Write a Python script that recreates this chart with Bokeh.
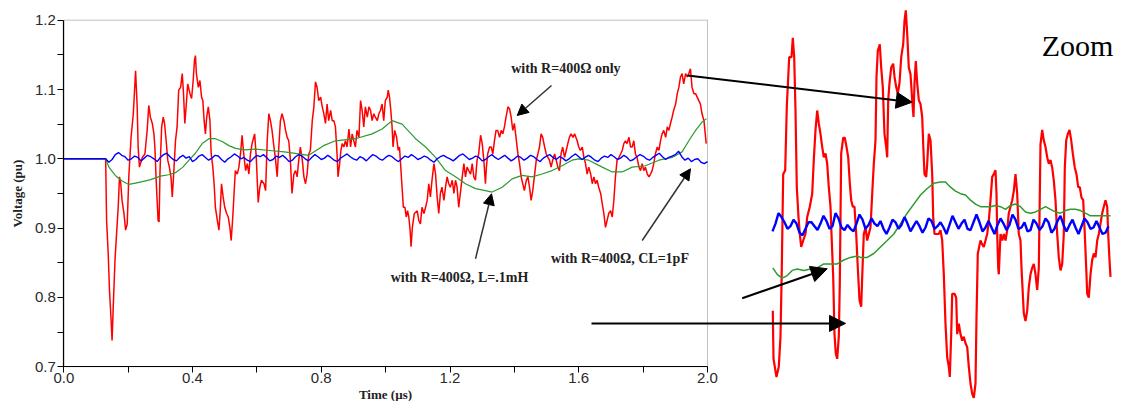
from bokeh.plotting import figure
from bokeh.models import (Range1d, LinearAxis, FixedTicker, PrintfTickFormatter,
                          Arrow, NormalHead, Label, BoxAnnotation)
from bokeh.embed import file_html
from bokeh.resources import INLINE

# ---------------- main chart data (time in us, voltage in pu) ----------------
x_ticks = [0.0, 0.4, 0.8, 1.2, 1.6, 2.0]
x_minor = [0.2, 0.6, 1.0, 1.4, 1.8]
y_ticks = [0.7, 0.8, 0.9, 1.0, 1.1, 1.2]
y_minor = [0.75, 0.85, 0.95, 1.05, 1.15]

# "with R=400 ohm only" (red)
red_t = [0.000, 0.130, 0.133, 0.138, 0.142, 0.147, 0.150, 0.154, 0.159, 0.164, 0.169, 0.173, 0.177, 0.181,
         0.187, 0.192, 0.197, 0.202, 0.209, 0.216, 0.223, 0.228, 0.231, 0.235, 0.244, 0.252, 0.259, 0.264,
         0.269, 0.275, 0.280, 0.283, 0.287, 0.290, 0.293, 0.296, 0.299, 0.304, 0.309, 0.313, 0.318, 0.323,
         0.328, 0.333, 0.337, 0.342, 0.347, 0.352, 0.357, 0.363, 0.368, 0.372, 0.376, 0.380, 0.385, 0.392,
         0.397, 0.402, 0.406, 0.409, 0.412, 0.418, 0.423, 0.428, 0.432, 0.436, 0.440, 0.444, 0.449, 0.454,
         0.458, 0.463, 0.467, 0.471, 0.477, 0.482, 0.486, 0.490, 0.495, 0.500, 0.506, 0.511, 0.516, 0.520,
         0.525, 0.529, 0.533, 0.539, 0.544, 0.549, 0.554, 0.559, 0.565, 0.570, 0.575, 0.580, 0.585, 0.593,
         0.598, 0.604, 0.609, 0.614, 0.622, 0.627, 0.632, 0.637, 0.642, 0.647, 0.653, 0.658, 0.663, 0.668,
         0.673, 0.678, 0.684, 0.689, 0.694, 0.699, 0.704, 0.709, 0.715, 0.720, 0.725, 0.730, 0.735, 0.741,
         0.746, 0.751, 0.756, 0.761, 0.766, 0.772, 0.777, 0.782, 0.787, 0.792, 0.798, 0.803, 0.808, 0.813,
         0.818, 0.823, 0.829, 0.834, 0.839, 0.844, 0.849, 0.852, 0.857, 0.861, 0.865, 0.870, 0.875, 0.880,
         0.886, 0.891, 0.896, 0.901, 0.906, 0.911, 0.917, 0.922, 0.927, 0.932, 0.937, 0.943, 0.948, 0.953,
         0.958, 0.963, 0.968, 0.974, 0.979, 0.984, 0.989, 0.994, 0.999, 1.005, 1.008, 1.012, 1.016, 1.020,
         1.023, 1.028, 1.034, 1.039, 1.043, 1.047, 1.051, 1.055, 1.060, 1.064, 1.068, 1.072, 1.076, 1.079,
         1.083, 1.089, 1.098, 1.103, 1.108, 1.113, 1.119, 1.124, 1.129, 1.134, 1.139, 1.144, 1.150, 1.155,
         1.160, 1.165, 1.170, 1.175, 1.181, 1.186, 1.191, 1.196, 1.201, 1.207, 1.212, 1.217, 1.222, 1.227,
         1.233, 1.238, 1.243, 1.248, 1.253, 1.258, 1.264, 1.269, 1.274, 1.279, 1.284, 1.289, 1.295, 1.300,
         1.305, 1.310, 1.313, 1.317, 1.323, 1.328, 1.333, 1.338, 1.343, 1.348, 1.354, 1.359, 1.364, 1.369,
         1.374, 1.380, 1.385, 1.390, 1.395, 1.400, 1.405, 1.411, 1.416, 1.421, 1.426, 1.431, 1.437, 1.442,
         1.447, 1.452, 1.457, 1.462, 1.468, 1.473, 1.478, 1.483, 1.488, 1.494, 1.499, 1.504, 1.509, 1.514,
         1.519, 1.525, 1.530, 1.535, 1.540, 1.545, 1.550, 1.556, 1.561, 1.566, 1.571, 1.576, 1.582, 1.587,
         1.595, 1.600, 1.605, 1.611, 1.616, 1.621, 1.626, 1.631, 1.637, 1.642, 1.647, 1.652, 1.657, 1.662,
         1.668, 1.673, 1.678, 1.683, 1.688, 1.693, 1.699, 1.704, 1.709, 1.714, 1.719, 1.725, 1.730, 1.735,
         1.740, 1.745, 1.750, 1.756, 1.761, 1.766, 1.771, 1.776, 1.781, 1.787, 1.792, 1.797, 1.802, 1.807,
         1.813, 1.818, 1.823, 1.828, 1.833, 1.838, 1.844, 1.849, 1.854, 1.859, 1.864, 1.870, 1.875, 1.880,
         1.885, 1.890, 1.895, 1.901, 1.906, 1.911, 1.916, 1.921, 1.926, 1.932, 1.937, 1.942, 1.947, 1.952,
         1.958, 1.963, 1.968, 1.973, 1.978, 1.983, 1.989, 1.992, 1.996]
red_v = [1.000, 1.000, 0.911, 0.863, 0.810, 0.767, 0.738, 0.791, 0.853, 0.892, 0.930, 0.974, 0.964, 0.940,
         0.921, 0.897, 0.906, 0.974, 1.031, 1.065, 1.127, 1.075, 1.017, 0.988, 1.002, 1.007, 1.041, 1.077,
         1.060, 1.051, 1.036, 1.017, 0.969, 0.940, 0.911, 0.909, 0.983, 1.046, 1.060, 1.051, 1.026, 0.998,
         0.988, 0.974, 0.945, 0.983, 1.026, 1.046, 1.099, 1.103, 1.123, 1.094, 1.051, 1.075, 1.108, 1.094,
         1.087, 1.113, 1.142, 1.149, 1.123, 1.103, 1.113, 1.089, 1.084, 1.055, 1.036, 1.060, 1.075, 1.055,
         1.007, 0.988, 0.964, 0.930, 0.911, 0.897, 0.925, 0.964, 0.945, 0.930, 0.921, 0.916, 0.901, 0.882,
         0.916, 0.950, 0.983, 0.978, 0.988, 1.007, 1.034, 1.007, 0.983, 0.993, 0.978, 1.007, 1.022, 1.036,
         1.002, 0.937, 0.959, 0.969, 0.964, 0.954, 1.026, 1.065, 1.055, 1.041, 1.017, 0.998, 0.974, 1.017,
         1.055, 1.065, 1.055, 1.041, 1.031, 1.026, 0.998, 0.950, 0.978, 0.983, 0.974, 0.998, 1.017, 0.998,
         0.974, 0.964, 0.978, 1.007, 1.012, 1.055, 1.075, 1.111, 1.103, 1.084, 1.089, 1.075, 1.065, 1.051,
         1.079, 1.055, 1.070, 1.055, 1.055, 1.046, 1.007, 0.974, 0.993, 1.012, 1.022, 1.017, 1.026, 1.017,
         1.043, 1.017, 1.036, 1.026, 1.017, 1.041, 1.031, 1.084, 1.070, 1.046, 1.075, 1.060, 1.075, 1.070,
         1.055, 1.065, 1.060, 1.055, 1.065, 1.070, 1.079, 1.055, 1.084, 1.089, 1.099, 1.089, 1.070, 1.046,
         1.017, 1.041, 1.031, 1.012, 1.017, 0.988, 0.959, 0.930, 0.930, 0.916, 0.925, 0.916, 0.897, 0.873,
         0.901, 0.921, 0.925, 0.911, 0.906, 0.930, 0.921, 0.930, 0.940, 0.964, 0.945, 0.969, 0.993, 0.978,
         0.945, 0.921, 0.950, 0.959, 0.940, 0.959, 0.974, 0.964, 0.959, 0.969, 0.950, 0.969, 0.959, 0.930,
         0.954, 0.974, 0.993, 0.974, 0.988, 0.983, 0.978, 0.993, 0.974, 0.969, 0.998, 1.007, 1.034, 1.022,
         0.998, 0.964, 0.988, 1.007, 1.017, 1.017, 1.007, 1.026, 1.041, 1.041, 1.031, 1.041, 1.036, 1.046,
         1.060, 1.075, 1.072, 1.060, 1.041, 1.051, 1.031, 1.007, 0.993, 0.974, 0.964, 0.954, 0.969, 0.974,
         0.959, 0.940, 0.954, 0.974, 0.998, 1.007, 1.017, 1.036, 1.031, 1.017, 1.007, 1.002, 0.998, 0.988,
         0.998, 1.007, 0.998, 0.988, 0.983, 1.007, 1.017, 1.002, 1.012, 1.022, 1.031, 1.036, 1.031, 1.036,
         1.026, 1.017, 1.012, 1.017, 1.002, 0.993, 0.978, 0.988, 0.978, 0.964, 0.974, 0.964, 0.969, 0.959,
         0.950, 0.935, 0.921, 0.901, 0.911, 0.921, 0.925, 0.916, 0.940, 0.974, 0.998, 1.002, 1.007, 1.012,
         1.022, 1.026, 1.022, 1.031, 1.017, 1.017, 1.026, 1.007, 1.002, 0.988, 0.983, 0.993, 0.983, 0.988,
         0.978, 0.974, 0.978, 0.983, 0.993, 1.007, 1.017, 1.012, 1.026, 1.036, 1.041, 1.031, 1.046, 1.041,
         1.051, 1.060, 1.070, 1.079, 1.094, 1.103, 1.118, 1.123, 1.108, 1.123, 1.118, 1.123, 1.130, 1.103,
         1.094, 1.094, 1.089, 1.084, 1.079, 1.065, 1.055, 1.041, 1.022]

# "with R=400 ohm, L=.1mH" (green)
green_t = [0.000, 0.130, 0.140, 0.160, 0.181, 0.202, 0.223, 0.244, 0.270, 0.300, 0.326, 0.347, 0.370,
           0.389, 0.409, 0.430, 0.451, 0.471, 0.492, 0.513, 0.534, 0.560, 0.596, 0.640, 0.685, 0.730,
           0.761, 0.807, 0.844, 0.906, 0.958, 0.989, 1.020, 1.051, 1.093, 1.124, 1.155, 1.186, 1.217,
           1.248, 1.279, 1.310, 1.331, 1.362, 1.393, 1.424, 1.455, 1.486, 1.517, 1.548, 1.579, 1.600,
           1.631, 1.673, 1.704, 1.735, 1.766, 1.807, 1.849, 1.890, 1.921, 1.942, 1.963, 1.983, 1.997]
green_v = [1.000, 1.000, 0.988, 0.976, 0.968, 0.963, 0.965, 0.967, 0.970, 0.975, 0.977, 0.980, 0.988,
           0.998, 1.008, 1.022, 1.029, 1.029, 1.025, 1.019, 1.015, 1.013, 1.014, 1.012, 1.010, 1.007,
           1.005, 1.019, 1.026, 1.029, 1.036, 1.043, 1.055, 1.050, 1.029, 1.017, 1.002, 0.983, 0.974,
           0.964, 0.957, 0.954, 0.952, 0.959, 0.971, 0.976, 0.974, 0.978, 0.983, 0.990, 0.998, 1.000,
           0.998, 0.988, 0.981, 0.981, 0.988, 0.990, 0.998, 1.002, 1.010, 1.026, 1.041, 1.053, 1.058]

# "with R=400 ohm, CL=1pF" (blue): flat, then sampled every 0.01 us from 0.13 us
blue_start, blue_step = 0.13, 0.01
blue_samples = [1.000, 0.995, 0.999, 1.006, 1.009, 1.005, 1.003, 0.998, 1.000, 1.004,
                1.002, 0.997, 1.001, 1.005, 1.003, 1.000, 0.996, 1.002, 1.006, 1.008,
                1.003, 0.999, 0.997, 1.002, 1.005, 1.001, 1.003, 0.996, 0.999, 1.004,
                1.006, 1.002, 0.998, 1.001, 1.005, 1.004, 0.999, 0.995, 1.000, 1.003,
                1.007, 1.004, 1.000, 1.002, 0.998, 0.996, 1.001, 1.005, 1.003, 1.006,
                1.002, 0.997, 0.999, 1.004, 1.002, 1.005, 1.001, 0.996, 0.998, 1.003,
                1.006, 1.004, 1.000, 0.997, 1.002, 1.006, 1.003, 0.999, 1.001, 1.005,
                1.002, 0.998, 0.996, 1.001, 1.004, 1.007, 1.003, 1.000, 0.998, 1.003,
                1.001, 0.997, 1.002, 1.006, 1.004, 1.000, 0.998, 1.002, 1.005, 1.003,
                0.999, 0.996, 1.000, 1.004, 1.002, 1.006, 1.003, 0.999, 1.001, 1.004,
                1.002, 0.998, 0.995, 1.000, 1.003, 1.005, 1.002, 1.000, 0.997, 1.001,
                1.005, 1.007, 1.003, 0.999, 1.001, 1.004, 1.002, 0.997, 0.999, 1.003,
                1.006, 1.002, 0.999, 1.002, 1.005, 1.001, 0.997, 1.000, 1.004, 1.002,
                0.998, 1.001, 1.005, 1.003, 0.999, 0.996, 1.001, 1.004, 1.006, 1.002,
                0.999, 1.003, 1.001, 0.997, 1.000, 1.004, 1.007, 1.003, 0.999, 1.002,
                1.005, 1.002, 0.998, 0.996, 1.001, 1.004, 1.002, 1.006, 1.003, 0.999,
                1.001, 1.005, 1.002, 0.997, 0.999, 1.003, 1.006, 1.004, 1.000, 0.998,
                1.002, 1.005, 1.008, 1.003, 0.999, 1.002, 1.004, 1.006, 1.011, 1.003,
                0.998, 1.001, 0.996, 0.999, 1.000, 0.995, 0.993, 0.996]
blue_t = [0.0] + [blue_start + blue_step * i for i in range(len(blue_samples))]
blue_v = [1.000] + blue_samples

# ---------------- zoom panel data (sample index, voltage in pu) ----------------
zoom_red_x = [2.3, 3.0, 4.7, 6.0, 8.3, 10.0, 11.3, 12.7, 14.7, 16.3, 18.7, 21.0, 22.3, 23.7, 25.0, 26.3,
              28.0, 29.3, 30.7, 32.7, 35.0, 36.7, 39.3, 41.7, 43.3, 45.0, 46.7, 48.3, 50.0, 51.7, 53.3,
              55.0, 56.7, 58.3, 60.0, 61.0, 62.7, 64.0, 65.3, 66.7, 68.3, 69.3, 70.7, 72.7, 74.3, 76.0,
              77.7, 79.3, 80.7, 82.3, 84.0, 85.7, 87.3, 89.0, 90.7, 91.7, 93.3, 95.0, 96.7, 98.3, 100.0,
              101.7, 103.3, 105.0, 106.0, 107.3, 109.3, 110.7, 112.3, 114.0, 115.7, 116.7, 117.7, 119.0,
              120.7, 122.7, 124.0, 125.7, 127.3, 129.0, 130.7, 132.7, 134.0, 135.3, 136.7, 138.3, 140.0,
              141.7, 143.0, 144.0, 145.3, 146.7, 148.3, 150.0, 151.7, 152.7, 154.0, 155.7, 156.7, 158.3,
              160.0, 161.7, 162.7, 164.0, 168.3, 170.0, 171.7, 173.3, 175.0, 176.7, 178.3, 179.3, 180.7,
              181.7, 184.0, 185.7, 186.7, 188.3, 190.0, 191.7, 193.3, 195.0, 196.7, 198.3, 200.0, 201.7,
              203.3, 205.0, 206.0, 207.3, 210.0, 211.7, 213.3, 215.0, 216.7, 218.3, 220.0, 221.7, 223.3,
              225.0, 226.0, 226.7, 227.7, 228.3, 230.0, 231.7, 233.3, 235.0, 236.7, 238.3, 240.0, 241.7,
              243.3, 245.0, 246.7, 248.3, 250.0, 251.0, 252.3, 253.3, 255.0, 256.7, 258.3, 260.0, 261.7,
              263.3, 265.0, 266.7, 268.3, 270.0, 271.7, 273.3, 275.0, 276.7, 278.3, 280.0, 281.7, 283.3,
              285.0, 286.7, 288.3, 290.0, 291.7, 293.3, 294.3, 295.7, 297.3, 299.0, 300.7, 302.3, 304.3,
              306.0, 307.7, 309.3, 311.0, 312.7, 314.3, 315.7, 316.7, 318.3, 320.0, 321.7, 323.3, 325.0,
              326.7, 328.3, 330.0, 331.7, 333.3, 335.0, 336.7, 337.7, 339.0, 340.0]
zoom_red_v = [0.936, 0.899, 0.891, 0.885, 0.893, 0.916, 0.969, 1.041, 1.044, 1.093, 1.131, 1.131, 1.146,
              1.131, 1.090, 1.031, 1.008, 0.995, 0.985, 0.990, 0.995, 1.008, 1.016, 1.026, 1.052, 1.075,
              1.090, 1.080, 1.072, 1.062, 1.054, 1.057, 1.049, 1.031, 1.016, 0.995, 0.962, 0.918, 0.903,
              0.899, 0.916, 0.957, 1.057, 1.069, 1.069, 1.062, 1.054, 1.034, 1.021, 1.016, 1.016, 0.995,
              0.969, 0.944, 0.939, 0.962, 0.995, 1.000, 0.990, 0.995, 1.000, 1.026, 1.049, 1.067, 1.116,
              1.136, 1.141, 1.123, 1.108, 1.072, 1.062, 1.054, 1.098, 1.111, 1.123, 1.126, 1.116, 1.108,
              1.103, 1.111, 1.131, 1.141, 1.159, 1.167, 1.149, 1.123, 1.118, 1.098, 1.085, 1.111, 1.128,
              1.111, 1.098, 1.095, 1.085, 1.064, 1.041, 1.039, 1.049, 1.072, 1.067, 1.041, 1.008, 0.995,
              0.995, 0.998, 0.990, 0.964, 0.926, 0.900, 0.893, 0.885, 0.918, 0.949, 0.949, 0.946, 0.918,
              0.926, 0.918, 0.913, 0.916, 0.911, 0.908, 0.893, 0.880, 0.872, 0.869, 0.880, 0.931, 0.980,
              0.990, 0.987, 0.985, 0.990, 0.995, 1.005, 1.021, 1.039, 1.041, 1.044, 1.026, 0.995, 0.969,
              0.964, 0.995, 0.990, 0.995, 0.990, 0.998, 1.011, 1.016, 1.021, 1.028, 1.041, 1.026, 0.995,
              0.990, 0.969, 0.949, 0.934, 0.928, 0.936, 0.954, 0.964, 0.969, 0.972, 0.964, 0.952, 0.969,
              1.064, 1.075, 1.067, 1.062, 1.054, 1.049, 1.052, 1.046, 1.036, 1.021, 0.995, 0.977, 0.967,
              0.972, 0.995, 1.046, 1.067, 1.072, 1.075, 1.067, 1.057, 1.046, 1.041, 1.031, 1.031, 1.023,
              1.021, 0.995, 0.969, 0.949, 0.946, 0.964, 0.975, 0.980, 0.977, 0.990, 0.995, 1.003, 1.011,
              1.016, 1.021, 1.016, 0.995, 0.975, 0.962]

zoom_green_x = [2.3, 6.7, 11.7, 16.7, 21.7, 26.7, 33.3, 40.0, 46.7, 53.3, 60.0, 66.7, 73.3, 80.0, 86.7,
                90.0, 96.7, 103.3, 110.0, 116.7, 123.3, 130.0, 136.7, 143.3, 150.0, 156.7, 163.3, 170.0,
                175.0, 180.0, 185.0, 190.0, 195.0, 200.0, 205.0, 210.0, 215.0, 220.0, 225.0, 230.0, 235.0,
                240.0, 245.0, 250.0, 255.0, 260.0, 265.0, 270.0, 275.0, 280.0, 285.0, 290.0, 295.0, 300.0,
                305.0, 310.0, 315.0, 320.0, 325.0, 330.0, 335.0, 340.0]
zoom_green_v = [0.969, 0.964, 0.961, 0.963, 0.967, 0.968, 0.967, 0.968, 0.969, 0.972, 0.972, 0.972, 0.975,
                0.977, 0.978, 0.977, 0.977, 0.980, 0.985, 0.990, 0.995, 1.003, 1.011, 1.018, 1.025, 1.030,
                1.034, 1.035, 1.035, 1.031, 1.028, 1.026, 1.025, 1.021, 1.018, 1.016, 1.016, 1.016, 1.017,
                1.016, 1.014, 1.017, 1.018, 1.016, 1.012, 1.011, 1.012, 1.014, 1.016, 1.014, 1.012, 1.011,
                1.013, 1.014, 1.014, 1.013, 1.011, 1.009, 1.009, 1.009, 1.009, 1.009]

zoom_blue_start, zoom_blue_step = 2.0, 3.0
zoom_blue_v = [0.997, 1.003, 1.011, 1.008, 1.004, 0.999, 1.001, 1.006, 1.003, 0.996,
               0.994, 0.999, 1.004, 1.004, 1.001, 0.998, 1.003, 1.009, 1.005, 0.999,
               1.001, 1.011, 1.007, 1.000, 0.998, 1.002, 0.999, 0.997, 1.003, 1.010,
               1.006, 0.999, 1.002, 1.007, 1.003, 1.001, 1.005, 0.999, 0.995, 1.000,
               1.006, 1.004, 0.999, 1.002, 1.008, 1.003, 0.997, 1.001, 1.005, 1.001,
               0.996, 1.000, 1.007, 1.005, 0.999, 1.001, 1.004, 1.000, 0.995, 1.002,
               1.009, 1.004, 0.999, 1.003, 1.006, 0.999, 0.998, 1.004, 1.010, 1.004,
               0.997, 1.000, 1.005, 1.000, 0.995, 1.002, 1.007, 1.003, 0.998, 1.002,
               1.010, 1.006, 0.999, 1.000, 1.004, 0.997, 0.998, 1.006, 1.003, 0.998,
               1.001, 1.007, 1.004, 0.996, 0.999, 1.005, 1.009, 1.002, 0.997, 1.002,
               1.006, 1.000, 0.995, 1.001, 1.007, 1.004, 0.999, 1.000, 1.005, 1.000,
               0.995, 0.996, 1.001]
zoom_blue_x = [zoom_blue_start + zoom_blue_step * i for i in range(len(zoom_blue_v))]

RED, GREEN, BLUE = "#ff0000", "#2e9a2e", "#0000ff"

# ---------------- figure ----------------
p = figure(width=1124, height=401, output_backend="svg", toolbar_location=None,
           x_axis_type=None, y_axis_type=None,
           x_range=Range1d(-0.19668, 3.29564), y_range=Range1d(0.64978, 1.22843),
           min_border=0, outline_line_color=None,
           background_fill_color="white", border_fill_color="white")
p.extra_x_ranges = {"zx": Range1d(-770, 354)}
p.extra_y_ranges = {"zy": Range1d(0.86615, 1.17462)}

# main plot box
p.add_layout(BoxAnnotation(left=0, right=2.0, bottom=0.7, top=1.2, fill_alpha=0,
                           line_color="#333333", line_width=1, level="underlay"))

p.line(red_t, red_v, line_color=RED, line_width=1.5)
p.line(green_t, green_v, line_color=GREEN, line_width=1.2)
p.line(blue_t, blue_v, line_color=BLUE, line_width=1.4)

# zoom panel
p.line(zoom_red_x, zoom_red_v, x_range_name="zx", y_range_name="zy", line_color=RED, line_width=2.2)
p.line(zoom_green_x, zoom_green_v, x_range_name="zx", y_range_name="zy", line_color=GREEN, line_width=1.5)
p.line(zoom_blue_x, zoom_blue_v, x_range_name="zx", y_range_name="zy", line_color=BLUE, line_width=2.4)

def style_axis(ax):
    ax.axis_line_color = "black"
    ax.axis_line_width = 1.2
    ax.major_tick_line_color = "black"
    ax.minor_tick_line_color = "black"
    ax.major_tick_in = 0
    ax.major_tick_out = 6
    ax.minor_tick_in = 0
    ax.minor_tick_out = 6
    ax.major_label_text_font = "Liberation Sans"
    ax.major_label_text_font_size = "15px"
    ax.major_label_text_color = "#2a2a2a"
    ax.axis_label_text_font = "Liberation Serif"
    ax.axis_label_text_font_style = "bold"
    ax.axis_label_text_font_size = "13px"
    ax.axis_label_text_color = "#222222"
    ax.formatter = PrintfTickFormatter(format="%.1f")

xaxis = LinearAxis(fixed_location=0.7, bounds=(0, 2.0),
                   ticker=FixedTicker(ticks=x_ticks, minor_ticks=x_minor),
                   axis_label="Time (µs)")
style_axis(xaxis)
xaxis.major_label_standoff = 0
xaxis.axis_label_standoff = 1
p.add_layout(xaxis, "below")

yaxis = LinearAxis(fixed_location=0.0, bounds=(0.7, 1.2),
                   ticker=FixedTicker(ticks=y_ticks, minor_ticks=y_minor),
                   axis_label="Voltage (pu)")
style_axis(yaxis)
yaxis.major_label_standoff = 2
yaxis.axis_label_standoff = 7
p.add_layout(yaxis, "left")

# annotation texts
lab_kw = dict(text_font="Liberation Serif", text_font_style="bold", text_font_size="14px",
              text_color="#222222", text_align="center", text_baseline="middle")
p.add_layout(Label(x=1.560, y=1.130, text="with R=400Ω only", **lab_kw))
p.add_layout(Label(x=1.2295, y=0.829, text="with R=400Ω, L=.1mH", **lab_kw))
p.add_layout(Label(x=1.728, y=0.856, text="with R=400Ω, CL=1pF", **lab_kw))
p.add_layout(Label(x=3.150, y=1.1635, text="Zoom", text_font="Liberation Serif",
                   text_font_size="30px", text_color="black", text_align="center",
                   text_baseline="middle"))

# pointer arrows
def small_head():
    return NormalHead(size=11, fill_color="black", line_color="black")

def big_head():
    return NormalHead(size=16, fill_color="black", line_color="black")

p.add_layout(Arrow(end=small_head(), x_start=1.5153, y_start=1.1058, x_end=1.4087, y_end=1.0625,
                   line_color="#333333", line_width=1.5))
p.add_layout(Arrow(end=small_head(), x_start=1.2792, y_start=0.8557, x_end=1.3289, y_end=0.9495,
                   line_color="#333333", line_width=1.5))
p.add_layout(Arrow(end=small_head(), x_start=1.7971, y_start=0.8821, x_end=1.9472, y_end=0.9856,
                   line_color="#333333", line_width=1.5))
p.add_layout(Arrow(end=big_head(), x_start=1.9379, y_start=1.1202, x_end=2.6360, y_end=1.0817,
                   line_color="black", line_width=2))
p.add_layout(Arrow(end=big_head(), x_start=2.1078, y_start=0.7988, x_end=2.3719, y_end=0.8413,
                   line_color="black", line_width=2))
p.add_layout(Arrow(end=big_head(), x_start=1.6396, y_start=0.7625, x_end=2.4288, y_end=0.7625,
                   line_color="black", line_width=2))

open("out.html", "w").write(file_html(p, INLINE))
